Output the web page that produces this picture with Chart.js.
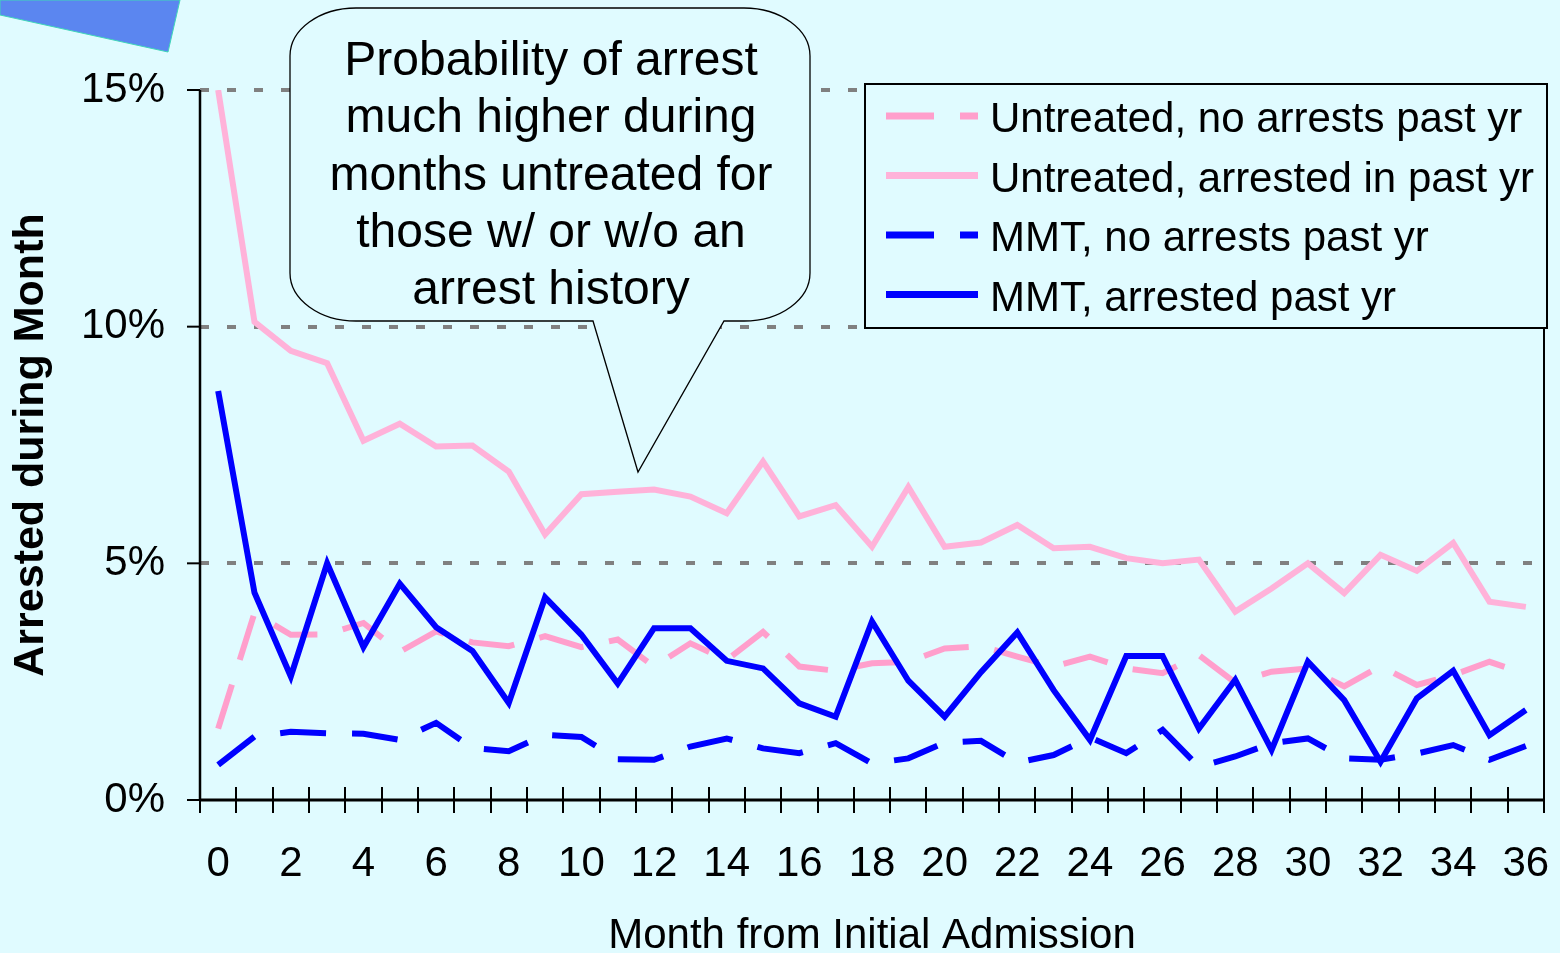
<!DOCTYPE html>
<html>
<head>
<meta charset="utf-8">
<script src="https://cdn.jsdelivr.net/npm/chart.js@4.4.0/dist/chart.umd.min.js"></script>
<style>
  html, body { margin: 0; padding: 0; background: #E0FBFF; overflow: hidden; }
  canvas { display: block; }
</style>
</head>
<body>
<canvas id="c" width="1560" height="953"></canvas>
<script>
// Month from initial admission (category labels)
const months = ['0','1','2','3','4','5','6','7','8','9','10','11','12','13','14','15','16','17','18',
                '19','20','21','22','23','24','25','26','27','28','29','30','31','32','33','34','35','36'];

// Percent arrested during each month
const untreatedNoArrests = [1.51, 3.95, 3.49, 3.5, 3.74, 3.13, 3.56, 3.33, 3.25, 3.46, 3.23, 3.39, 2.82,
                            3.31, 2.96, 3.55, 2.82, 2.73, 2.89, 2.92, 3.2, 3.25, 3.03, 2.82, 3.03, 2.78,
                            2.68, 3.06, 2.48, 2.71, 2.78, 2.4, 2.83, 2.43, 2.64, 2.92, 2.66];
const untreatedArrested  = [15.0, 10.1, 9.49, 9.23, 7.59, 7.95, 7.47, 7.49, 6.94, 5.61, 6.46, 6.51, 6.56,
                            6.41, 6.06, 7.15, 5.99, 6.23, 5.35, 6.61, 5.35, 5.44, 5.81, 5.32, 5.35, 5.11,
                            5.0, 5.08, 3.98, 4.47, 5.0, 4.37, 5.18, 4.84, 5.43, 4.19, 4.08];
const mmtNoArrests       = [0.74, 1.34, 1.44, 1.41, 1.4, 1.27, 1.63, 1.1, 1.03, 1.38, 1.33, 0.86, 0.85,
                            1.13, 1.3, 1.09, 0.99, 1.2, 0.77, 0.88, 1.21, 1.25, 0.79, 0.95, 1.32, 0.99,
                            1.48, 0.7, 0.92, 1.2, 1.3, 0.88, 0.85, 0.98, 1.16, 0.85, 1.14];
const mmtArrested        = [8.64, 4.38, 2.61, 5.0, 3.23, 4.57, 3.65, 3.15, 2.05, 4.28, 3.49, 2.46, 3.63,
                            3.63, 2.94, 2.78, 2.04, 1.76, 3.77, 2.52, 1.76, 2.7, 3.54, 2.32, 1.27, 3.04,
                            3.04, 1.51, 2.54, 1.06, 2.92, 2.11, 0.81, 2.15, 2.73, 1.37, 1.9];

const yTicks = [0, 5, 10, 15];

const seriesLabels = ['Untreated, no arrests past yr', 'Untreated, arrested in past yr',
                      'MMT, no arrests past yr', 'MMT, arrested past yr'];

const calloutLines = ['Probability of arrest', 'much higher during', 'months untreated for',
                      'those w/ or w/o an', 'arrest history'];

const BG = '#E0FBFF';
const FONT = "'Liberation Sans', Arial, sans-serif";
const PINK_DASH = '#FF9FCC';
const PINK_SOLID = '#FFB2D9';
const BLUE = '#0000FF';
const DASH = [46, 26];

const decor = {
  id: 'decor',
  beforeDraw(chart) {
    const c = chart.ctx;
    c.save();
    c.fillStyle = BG;
    c.fillRect(0, 0, chart.width, chart.height);
    // corner banner
    c.beginPath();
    c.moveTo(0, 0);
    c.lineTo(180, 0);
    c.lineTo(168, 52);
    c.lineTo(0, 15);
    c.closePath();
    c.fillStyle = '#5B86F0';
    c.fill();
    c.strokeStyle = '#3FD6B8';
    c.lineWidth = 1;
    c.stroke();
    c.restore();
  },
  afterDraw(chart) {
    const c = chart.ctx;
    const a = chart.chartArea;
    const xs = chart.scales.x;
    const ys = chart.scales.y;
    c.save();
    c.setLineDash([]);
    c.strokeStyle = '#000';

    // plot frame: right edge
    c.lineWidth = 2;
    c.beginPath();
    c.moveTo(a.right, a.top);
    c.lineTo(a.right, a.bottom);
    c.stroke();

    // y axis with outside ticks
    c.lineWidth = 2.5;
    c.beginPath();
    c.moveTo(a.left, a.top);
    c.lineTo(a.left, a.bottom);
    c.stroke();
    c.lineWidth = 2;
    yTicks.forEach(v => {
      const py = ys.getPixelForValue(v);
      c.beginPath();
      c.moveTo(a.left - 13, py);
      c.lineTo(a.left, py);
      c.stroke();
    });

    // x axis with crossing ticks between categories
    c.lineWidth = 3;
    c.beginPath();
    c.moveTo(a.left, a.bottom);
    c.lineTo(a.right, a.bottom);
    c.stroke();
    const step = xs.getPixelForValue(1) - xs.getPixelForValue(0);
    c.lineWidth = 2;
    for (let i = 0; i <= months.length; i++) {
      const px = Math.round(xs.getPixelForValue(0) - step / 2 + i * step);
      c.beginPath();
      c.moveTo(px, a.bottom - 13);
      c.lineTo(px, a.bottom + 13);
      c.stroke();
    }

    // callout balloon
    const L = 290, R = 810, T = 8, B = 321, rx = 66, ry = 48;
    c.beginPath();
    c.moveTo(L, T + ry);
    c.ellipse(L + rx, T + ry, rx, ry, 0, Math.PI, 1.5 * Math.PI);
    c.lineTo(R - rx, T);
    c.ellipse(R - rx, T + ry, rx, ry, 0, 1.5 * Math.PI, 2 * Math.PI);
    c.lineTo(R, B - ry);
    c.ellipse(R - rx, B - ry, rx, ry, 0, 0, 0.5 * Math.PI);
    c.lineTo(724, B);
    c.lineTo(638, 472);
    c.lineTo(593, B);
    c.lineTo(L + rx, B);
    c.ellipse(L + rx, B - ry, rx, ry, 0, 0.5 * Math.PI, Math.PI);
    c.closePath();
    c.fillStyle = BG;
    c.fill();
    c.lineWidth = 1.3;
    c.stroke();
    c.fillStyle = '#000';
    c.font = '48px ' + FONT;
    c.textAlign = 'center';
    c.textBaseline = 'alphabetic';
    calloutLines.forEach((t, i) => c.fillText(t, 551, 75 + i * 57.3));

    // legend box
    c.fillStyle = BG;
    c.fillRect(865, 84, 682, 244);
    c.lineWidth = 2;
    c.strokeStyle = '#000';
    c.strokeRect(865, 84, 682, 244);
    c.font = '42px ' + FONT;
    c.textAlign = 'left';
    chart.data.datasets.forEach((ds, i) => {
      const base = 132 + i * 59.5;
      const ly = base - 16;
      c.save();
      c.strokeStyle = ds.borderColor;
      c.lineWidth = 7;
      c.lineCap = 'butt';
      c.setLineDash(ds.borderDash ? [48, 26] : []);
      c.beginPath();
      c.moveTo(886, ly);
      c.lineTo(978, ly);
      c.stroke();
      c.restore();
      c.fillStyle = '#000';
      c.fillText(ds.label, 990, base);
    });
    c.restore();
  }
};

const common = { pointRadius: 0, borderWidth: 6, fill: false, tension: 0,
                 borderJoinStyle: 'miter', borderCapStyle: 'butt' };

new Chart(document.getElementById('c'), {
  type: 'line',
  data: {
    labels: months,
    datasets: [
      Object.assign({ label: seriesLabels[0], data: untreatedNoArrests, borderColor: PINK_DASH, borderDash: DASH, order: 3 }, common),
      Object.assign({ label: seriesLabels[1], data: untreatedArrested, borderColor: PINK_SOLID, order: 2 }, common),
      Object.assign({ label: seriesLabels[2], data: mmtNoArrests, borderColor: BLUE, borderDash: DASH, order: 1 }, common),
      Object.assign({ label: seriesLabels[3], data: mmtArrested, borderColor: BLUE, order: 0 }, common)
    ]
  },
  options: {
    responsive: false,
    animation: false,
    devicePixelRatio: 1,
    layout: { padding: { top: 90, right: 16, bottom: 0, left: 0 } },
    plugins: { legend: { display: false }, tooltip: { enabled: false } },
    scales: {
      x: {
        type: 'category',
        offset: true,
        grid: { display: false },
        border: { display: false },
        ticks: {
          autoSkip: false, maxRotation: 0, minRotation: 0, padding: 31, color: '#000',
          font: { family: FONT, size: 42 },
          callback(v, i) { return i % 2 === 0 ? this.getLabelForValue(v) : ''; }
        },
        title: {
          display: true, text: 'Month from Initial Admission', color: '#000',
          font: { family: FONT, size: 42, lineHeight: 0.81 }, padding: { top: 0, bottom: 0 }
        },
        afterFit(s) { s.height = 153; s.paddingLeft = 0; s.paddingRight = 0; }
      },
      y: {
        min: 0, max: 15,
        afterBuildTicks(s) { s.ticks = yTicks.map(v => ({ value: v })); },
        grid: {
          color: ctx => (ctx.tick && ctx.tick.value === 0) ? 'rgba(0,0,0,0)' : '#808080',
          lineWidth: 4, drawTicks: false
        },
        border: { display: false, dash: [9, 18] },
        ticks: {
          padding: 35, color: '#000', font: { family: FONT, size: 42 },
          callback: v => v + '%'
        },
        title: {
          display: true, text: 'Arrested during Month', color: '#000',
          font: { family: FONT, size: 43, weight: 'bold', lineHeight: 1.2 }, padding: { top: 5, bottom: 0 }
        },
        afterFit(s) { s.width = 200; s.paddingTop = 0; s.paddingBottom = 0; }
      }
    }
  },
  plugins: [decor]
});
</script>
</body>
</html>
